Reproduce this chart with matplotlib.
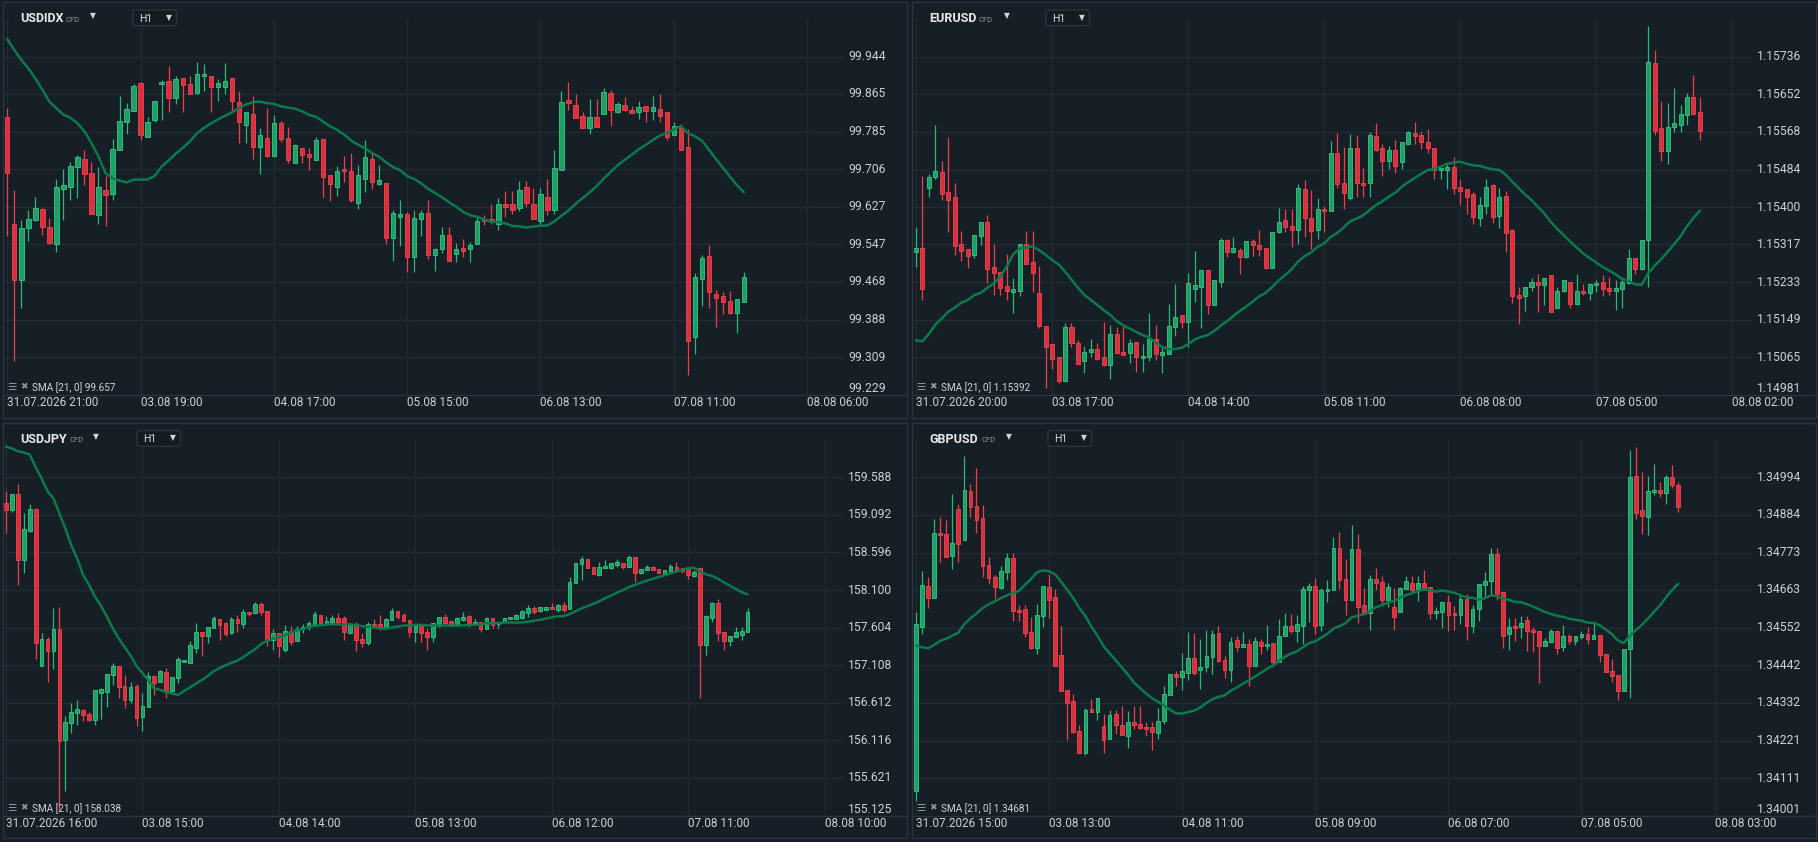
import numpy as np
import pandas as pd
import matplotlib
matplotlib.use('Agg')
import matplotlib.pyplot as plt
from matplotlib.patches import Rectangle, FancyBboxPatch
from matplotlib.lines import Line2D
from matplotlib.transforms import blended_transform_factory

plt.rcParams['font.family'] = ['Roboto', 'DejaVu Sans']

# ---- data (open, high, low, close), hourly candles ----
USDIDX_OHLC = [
    (99.816, 99.835, 99.565, 99.699), (99.590, 99.662, 99.300, 99.471), (99.471, 99.599, 99.413, 99.582),
    (99.581, 99.619, 99.555, 99.600), (99.598, 99.648, 99.596, 99.624), (99.622, 99.624, 99.568, 99.583),
    (99.584, 99.603, 99.549, 99.551), (99.547, 99.685, 99.532, 99.668), (99.665, 99.706, 99.598, 99.672),
    (99.669, 99.721, 99.641, 99.712), (99.710, 99.736, 99.646, 99.731), (99.727, 99.747, 99.672, 99.696),
    (99.698, 99.721, 99.611, 99.611), (99.610, 99.710, 99.591, 99.668), (99.662, 99.692, 99.587, 99.651),
    (99.653, 99.769, 99.641, 99.748), (99.746, 99.860, 99.746, 99.807), (99.805, 99.846, 99.781, 99.833),
    (99.830, 99.886, 99.830, 99.881), (99.888, 99.891, 99.767, 99.779), (99.774, 99.816, 99.774, 99.805),
    (99.809, 99.850, 99.806, 99.850), (99.886, 99.895, 99.810, 99.890), (99.892, 99.924, 99.828, 99.857),
    (99.857, 99.903, 99.844, 99.896), (99.898, 99.898, 99.826, 99.883), (99.886, 99.903, 99.864, 99.864),
    (99.868, 99.933, 99.864, 99.907), (99.902, 99.928, 99.872, 99.907), (99.902, 99.902, 99.826, 99.879),
    (99.879, 99.897, 99.851, 99.888), (99.879, 99.930, 99.865, 99.892), (99.898, 99.898, 99.826, 99.850),
    (99.848, 99.872, 99.762, 99.805), (99.800, 99.826, 99.762, 99.826), (99.822, 99.860, 99.727, 99.753),
    (99.754, 99.793, 99.697, 99.778), (99.772, 99.835, 99.731, 99.735), (99.735, 99.820, 99.731, 99.803),
    (99.803, 99.807, 99.764, 99.769), (99.772, 99.795, 99.719, 99.725), (99.719, 99.759, 99.719, 99.757),
    (99.750, 99.750, 99.719, 99.736), (99.738, 99.750, 99.705, 99.731), (99.726, 99.774, 99.726, 99.767),
    (99.769, 99.769, 99.646, 99.689), (99.693, 99.693, 99.638, 99.674), (99.669, 99.713, 99.650, 99.703),
    (99.706, 99.735, 99.680, 99.702), (99.702, 99.741, 99.636, 99.640), (99.634, 99.715, 99.622, 99.693),
    (99.685, 99.767, 99.658, 99.731), (99.727, 99.740, 99.664, 99.680), (99.674, 99.716, 99.672, 99.683),
    (99.677, 99.677, 99.548, 99.560), (99.560, 99.620, 99.513, 99.613), (99.605, 99.641, 99.543, 99.611),
    (99.611, 99.616, 99.488, 99.520), (99.520, 99.620, 99.488, 99.603), (99.600, 99.620, 99.566, 99.613),
    (99.613, 99.641, 99.517, 99.524), (99.524, 99.540, 99.490, 99.537), (99.538, 99.584, 99.530, 99.567),
    (99.567, 99.584, 99.513, 99.513), (99.526, 99.550, 99.509, 99.537), (99.540, 99.559, 99.520, 99.534),
    (99.537, 99.553, 99.511, 99.546), (99.549, 99.610, 99.549, 99.596), (99.601, 99.610, 99.589, 99.597),
    (99.601, 99.633, 99.591, 99.596), (99.590, 99.646, 99.577, 99.632), (99.632, 99.660, 99.606, 99.627),
    (99.632, 99.660, 99.612, 99.619), (99.625, 99.681, 99.617, 99.662), (99.668, 99.681, 99.627, 99.634),
    (99.633, 99.666, 99.600, 99.600), (99.596, 99.666, 99.588, 99.653), (99.647, 99.686, 99.610, 99.619),
    (99.619, 99.747, 99.612, 99.708), (99.705, 99.872, 99.705, 99.848), (99.852, 99.890, 99.831, 99.845),
    (99.841, 99.864, 99.815, 99.815), (99.818, 99.826, 99.794, 99.794), (99.794, 99.855, 99.781, 99.817),
    (99.817, 99.855, 99.796, 99.796), (99.822, 99.878, 99.822, 99.869), (99.867, 99.874, 99.798, 99.832),
    (99.828, 99.848, 99.824, 99.843), (99.841, 99.859, 99.829, 99.832), (99.831, 99.840, 99.824, 99.824),
    (99.826, 99.850, 99.812, 99.838), (99.839, 99.839, 99.806, 99.830), (99.830, 99.860, 99.810, 99.838),
    (99.834, 99.865, 99.806, 99.819), (99.826, 99.826, 99.767, 99.775), (99.779, 99.806, 99.777, 99.798),
    (99.793, 99.802, 99.746, 99.746), (99.753, 99.791, 99.272, 99.344), (99.351, 99.486, 99.316, 99.479),
    (99.475, 99.525, 99.416, 99.518), (99.522, 99.546, 99.412, 99.446), (99.443, 99.451, 99.372, 99.435),
    (99.439, 99.447, 99.401, 99.425), (99.427, 99.449, 99.401, 99.403), (99.403, 99.432, 99.361, 99.432),
    (99.425, 99.489, 99.425, 99.479),
]
# SMA values before 21 closes are on screen
USDIDX_SMA_HEAD = [99.981, 99.958, 99.937, 99.919, 99.898, 99.874, 99.849, 99.835, 99.821, 99.815,
                   99.803, 99.786, 99.761, 99.733, 99.698, 99.687, 99.682, 99.678, 99.684, 99.684]
USDIDX_PRICES = ['99.944', '99.865', '99.785', '99.706', '99.627', '99.547', '99.468', '99.388', '99.309', '99.229']
USDIDX_DATES = ['31.07.2026 21:00', '03.08 19:00', '04.08 17:00', '05.08 15:00', '06.08 13:00', '07.08 11:00', '08.08 06:00']

EURUSD_OHLC = [
    (1.15301, 1.15355, 1.15267, 1.15308), (1.15310, 1.15470, 1.15194, 1.15218), (1.15442, 1.15474, 1.15423, 1.15467),
    (1.15468, 1.15583, 1.15464, 1.15480), (1.15478, 1.15504, 1.15416, 1.15430), (1.15435, 1.15557, 1.15345, 1.15417),
    (1.15422, 1.15453, 1.15294, 1.15314), (1.15319, 1.15348, 1.15281, 1.15303), (1.15306, 1.15306, 1.15265, 1.15292),
    (1.15294, 1.15339, 1.15286, 1.15339), (1.15336, 1.15368, 1.15315, 1.15368), (1.15368, 1.15382, 1.15231, 1.15263),
    (1.15266, 1.15317, 1.15204, 1.15254), (1.15256, 1.15256, 1.15204, 1.15220), (1.15224, 1.15296, 1.15194, 1.15214),
    (1.15211, 1.15241, 1.15164, 1.15217), (1.15214, 1.15319, 1.15202, 1.15319), (1.15319, 1.15347, 1.15274, 1.15274),
    (1.15277, 1.15347, 1.15211, 1.15254), (1.15208, 1.15269, 1.15131, 1.15134), (1.15134, 1.15134, 1.14996, 1.15087),
    (1.15094, 1.15098, 1.15039, 1.15062), (1.15065, 1.15065, 1.15008, 1.15013), (1.15013, 1.15141, 1.15013, 1.15132),
    (1.15132, 1.15141, 1.15089, 1.15098), (1.15098, 1.15103, 1.15051, 1.15051), (1.15057, 1.15090, 1.15029, 1.15077),
    (1.15078, 1.15106, 1.15065, 1.15084), (1.15084, 1.15098, 1.15059, 1.15062), (1.15065, 1.15143, 1.15045, 1.15048),
    (1.15048, 1.15138, 1.15017, 1.15118), (1.15118, 1.15133, 1.15073, 1.15075), (1.15076, 1.15135, 1.15071, 1.15071),
    (1.15075, 1.15105, 1.15053, 1.15098), (1.15100, 1.15100, 1.15033, 1.15066), (1.15064, 1.15094, 1.15033, 1.15069),
    (1.15066, 1.15163, 1.15057, 1.15105), (1.15105, 1.15138, 1.15060, 1.15073), (1.15071, 1.15087, 1.15029, 1.15077),
    (1.15073, 1.15183, 1.15073, 1.15136), (1.15133, 1.15228, 1.15112, 1.15156), (1.15159, 1.15159, 1.15130, 1.15143),
    (1.15143, 1.15254, 1.15089, 1.15230), (1.15217, 1.15302, 1.15189, 1.15226), (1.15223, 1.15259, 1.15130, 1.15259),
    (1.15261, 1.15261, 1.15161, 1.15181), (1.15181, 1.15237, 1.15181, 1.15237), (1.15234, 1.15331, 1.15223, 1.15327),
    (1.15327, 1.15328, 1.15289, 1.15301), (1.15299, 1.15334, 1.15297, 1.15308), (1.15304, 1.15310, 1.15252, 1.15288),
    (1.15289, 1.15324, 1.15286, 1.15324), (1.15324, 1.15328, 1.15292, 1.15315), (1.15315, 1.15349, 1.15292, 1.15307),
    (1.15310, 1.15310, 1.15263, 1.15265), (1.15265, 1.15344, 1.15265, 1.15344), (1.15344, 1.15398, 1.15342, 1.15368),
    (1.15371, 1.15395, 1.15345, 1.15355), (1.15357, 1.15395, 1.15312, 1.15350), (1.15350, 1.15452, 1.15319, 1.15442),
    (1.15440, 1.15461, 1.15334, 1.15375), (1.15375, 1.15438, 1.15307, 1.15348), (1.15350, 1.15420, 1.15330, 1.15395),
    (1.15395, 1.15403, 1.15345, 1.15391), (1.15391, 1.15548, 1.15391, 1.15522), (1.15522, 1.15565, 1.15443, 1.15451),
    (1.15453, 1.15535, 1.15397, 1.15431), (1.15421, 1.15563, 1.15416, 1.15531), (1.15531, 1.15561, 1.15423, 1.15453),
    (1.15455, 1.15488, 1.15423, 1.15450), (1.15453, 1.15568, 1.15423, 1.15560), (1.15558, 1.15587, 1.15525, 1.15528),
    (1.15531, 1.15542, 1.15470, 1.15502), (1.15502, 1.15536, 1.15486, 1.15527), (1.15527, 1.15550, 1.15477, 1.15493),
    (1.15500, 1.15545, 1.15486, 1.15545), (1.15542, 1.15571, 1.15540, 1.15567), (1.15565, 1.15590, 1.15542, 1.15558),
    (1.15560, 1.15571, 1.15530, 1.15545), (1.15545, 1.15574, 1.15522, 1.15531), (1.15533, 1.15533, 1.15463, 1.15483),
    (1.15482, 1.15487, 1.15464, 1.15487), (1.15484, 1.15499, 1.15441, 1.15489), (1.15489, 1.15512, 1.15429, 1.15442),
    (1.15444, 1.15461, 1.15406, 1.15436), (1.15440, 1.15440, 1.15384, 1.15423), (1.15429, 1.15433, 1.15362, 1.15379),
    (1.15377, 1.15423, 1.15359, 1.15405), (1.15403, 1.15463, 1.15384, 1.15446), (1.15449, 1.15452, 1.15364, 1.15379),
    (1.15381, 1.15442, 1.15353, 1.15423), (1.15426, 1.15436, 1.15301, 1.15343), (1.15349, 1.15352, 1.15186, 1.15201),
    (1.15203, 1.15222, 1.15140, 1.15198), (1.15201, 1.15223, 1.15169, 1.15223), (1.15221, 1.15241, 1.15212, 1.15234),
    (1.15234, 1.15251, 1.15167, 1.15226), (1.15226, 1.15243, 1.15182, 1.15243), (1.15248, 1.15248, 1.15166, 1.15167),
    (1.15176, 1.15222, 1.15176, 1.15214), (1.15213, 1.15237, 1.15211, 1.15237), (1.15234, 1.15234, 1.15176, 1.15185),
    (1.15185, 1.15251, 1.15181, 1.15212), (1.15212, 1.15228, 1.15204, 1.15208), (1.15208, 1.15231, 1.15194, 1.15229),
    (1.15226, 1.15237, 1.15211, 1.15230), (1.15232, 1.15249, 1.15202, 1.15217), (1.15220, 1.15244, 1.15204, 1.15214),
    (1.15214, 1.15237, 1.15171, 1.15220), (1.15218, 1.15245, 1.15176, 1.15232), (1.15230, 1.15307, 1.15228, 1.15286),
    (1.15286, 1.15286, 1.15251, 1.15263), (1.15263, 1.15326, 1.15260, 1.15326), (1.15326, 1.15804, 1.15221, 1.15723),
    (1.15721, 1.15751, 1.15562, 1.15569), (1.15576, 1.15638, 1.15502, 1.15525), (1.15525, 1.15632, 1.15497, 1.15580),
    (1.15580, 1.15666, 1.15568, 1.15587), (1.15583, 1.15629, 1.15568, 1.15607), (1.15605, 1.15655, 1.15584, 1.15645),
    (1.15645, 1.15695, 1.15605, 1.15609), (1.15612, 1.15645, 1.15551, 1.15570),
]
EURUSD_SMA_HEAD = [1.15103, 1.15101, 1.15118, 1.15138, 1.15152, 1.15167, 1.15176, 1.15187, 1.15193, 1.15204,
                   1.15209, 1.15220, 1.15230, 1.15245, 1.15267, 1.15295, 1.15308, 1.15310, 1.15313, 1.15304]
EURUSD_PRICES = ['1.15736', '1.15652', '1.15568', '1.15484', '1.15400', '1.15317', '1.15233', '1.15149', '1.15065', '1.14981']
EURUSD_DATES = ['31.07.2026 20:00', '03.08 17:00', '04.08 14:00', '05.08 11:00', '06.08 08:00', '07.08 05:00', '08.08 02:00']

USDJPY_OHLC = [
    (159.250, 159.408, 158.846, 159.149), (159.149, 159.368, 159.127, 159.368), (159.368, 159.500, 158.161, 158.495),
    (158.490, 159.118, 158.319, 158.908), (158.881, 159.237, 158.864, 159.171), (159.171, 159.180, 157.187, 157.397),
    (157.094, 157.538, 157.094, 157.454), (157.454, 157.481, 156.884, 157.292), (157.292, 157.867, 157.055, 157.591),
    (157.591, 157.880, 155.198, 156.107), (156.120, 156.445, 155.448, 156.366), (156.344, 156.616, 156.212, 156.493),
    (156.475, 156.647, 156.317, 156.537), (156.524, 156.537, 156.370, 156.449), (156.467, 156.489, 156.370, 156.383),
    (156.383, 156.778, 156.317, 156.778), (156.739, 156.809, 156.396, 156.792), (156.761, 156.993, 156.563, 156.993),
    (156.976, 157.134, 156.849, 157.099), (157.099, 157.099, 156.673, 156.818), (156.835, 156.985, 156.541, 156.647),
    (156.647, 156.892, 156.612, 156.827), (156.840, 156.862, 156.304, 156.410), (156.427, 156.748, 156.238, 156.572),
    (156.559, 157.024, 156.559, 156.967), (156.967, 156.985, 156.717, 156.875), (156.888, 157.046, 156.888, 157.033),
    (157.024, 157.072, 156.673, 156.765), (156.765, 156.954, 156.765, 156.954), (156.945, 157.222, 156.871, 157.187),
    (157.152, 157.182, 157.152, 157.182), (157.134, 157.432, 157.134, 157.371), (157.340, 157.661, 157.266, 157.551),
    (157.551, 157.551, 157.231, 157.490), (157.490, 157.617, 157.397, 157.617), (157.595, 157.757, 157.595, 157.727),
    (157.722, 157.722, 157.437, 157.634), (157.661, 157.683, 157.490, 157.525), (157.529, 157.740, 157.520, 157.713),
    (157.722, 157.775, 157.551, 157.661), (157.656, 157.845, 157.604, 157.810), (157.810, 157.810, 157.762, 157.779),
    (157.792, 157.946, 157.792, 157.920), (157.920, 157.946, 157.766, 157.810), (157.828, 157.828, 157.362, 157.450),
    (157.441, 157.586, 157.305, 157.538), (157.538, 157.538, 157.213, 157.362), (157.310, 157.634, 157.283, 157.560),
    (157.560, 157.626, 157.375, 157.419), (157.428, 157.626, 157.428, 157.586), (157.591, 157.648, 157.529, 157.617),
    (157.621, 157.691, 157.569, 157.661), (157.639, 157.828, 157.630, 157.779), (157.775, 157.775, 157.648, 157.661),
    (157.652, 157.757, 157.639, 157.696), (157.674, 157.770, 157.674, 157.735), (157.735, 157.801, 157.661, 157.683),
    (157.735, 157.762, 157.446, 157.542), (157.538, 157.665, 157.525, 157.648), (157.648, 157.683, 157.301, 157.437),
    (157.459, 157.538, 157.353, 157.406), (157.406, 157.683, 157.371, 157.656), (157.652, 157.718, 157.608, 157.617),
    (157.648, 157.770, 157.569, 157.595), (157.595, 157.735, 157.586, 157.722), (157.705, 157.867, 157.705, 157.828),
    (157.828, 157.828, 157.718, 157.740), (157.766, 157.801, 157.687, 157.687), (157.705, 157.705, 157.485, 157.542),
    (157.542, 157.648, 157.411, 157.630), (157.630, 157.665, 157.419, 157.533), (157.551, 157.595, 157.305, 157.485),
    (157.476, 157.661, 157.411, 157.661), (157.626, 157.749, 157.608, 157.749), (157.749, 157.784, 157.661, 157.670),
    (157.696, 157.696, 157.643, 157.656), (157.656, 157.744, 157.643, 157.735), (157.709, 157.814, 157.687, 157.744),
    (157.753, 157.770, 157.608, 157.665), (157.652, 157.713, 157.634, 157.683), (157.678, 157.678, 157.551, 157.591),
    (157.591, 157.749, 157.591, 157.735), (157.731, 157.731, 157.595, 157.643), (157.652, 157.683, 157.604, 157.670),
    (157.678, 157.731, 157.678, 157.731), (157.713, 157.744, 157.713, 157.744), (157.718, 157.779, 157.713, 157.766),
    (157.735, 157.836, 157.722, 157.828), (157.801, 157.898, 157.749, 157.867), (157.867, 157.885, 157.788, 157.810),
    (157.828, 157.876, 157.814, 157.876), (157.841, 157.880, 157.832, 157.880), (157.880, 157.929, 157.845, 157.845),
    (157.836, 157.920, 157.810, 157.907), (157.907, 157.937, 157.814, 157.841), (157.845, 158.275, 157.845, 158.205),
    (158.188, 158.455, 158.188, 158.455), (158.438, 158.552, 158.231, 158.512), (158.512, 158.512, 158.385, 158.385),
    (158.407, 158.407, 158.306, 158.310), (158.297, 158.473, 158.289, 158.407), (158.385, 158.499, 158.385, 158.420),
    (158.394, 158.460, 158.372, 158.460), (158.429, 158.504, 158.407, 158.473), (158.460, 158.460, 158.372, 158.407),
    (158.398, 158.565, 158.398, 158.539), (158.539, 158.539, 158.209, 158.319), (158.319, 158.376, 158.306, 158.376),
    (158.359, 158.429, 158.359, 158.407), (158.407, 158.420, 158.359, 158.359), (158.381, 158.381, 158.319, 158.319),
    (158.310, 158.368, 158.297, 158.368), (158.346, 158.447, 158.337, 158.420), (158.407, 158.473, 158.359, 158.359),
    (158.385, 158.394, 158.319, 158.354), (158.394, 158.407, 158.245, 158.297), (158.289, 158.368, 158.267, 158.341),
    (158.385, 158.394, 156.673, 157.371), (157.371, 157.770, 157.239, 157.757), (157.727, 157.946, 157.674, 157.933),
    (157.933, 157.986, 157.432, 157.529), (157.547, 157.547, 157.305, 157.432), (157.432, 157.494, 157.367, 157.494),
    (157.476, 157.617, 157.476, 157.551), (157.511, 157.617, 157.446, 157.564), (157.542, 157.867, 157.542, 157.810),
]
USDJPY_SMA_HEAD = [159.992, 159.966, 159.930, 159.913, 159.887, 159.724, 159.570, 159.404, 159.307, 159.109,
                   158.912, 158.692, 158.517, 158.297, 158.166, 158.012, 157.893, 157.749, 157.595, 157.463]
USDJPY_PRICES = ['159.588', '159.092', '158.596', '158.100', '157.604', '157.108', '156.612', '156.116', '155.621', '155.125']
USDJPY_DATES = ['31.07.2026 16:00', '03.08 15:00', '04.08 14:00', '05.08 13:00', '06.08 12:00', '07.08 11:00', '08.08 10:00']

GBPUSD_OHLC = [
    (1.34074, 1.34597, 1.34043, 1.34563), (1.34554, 1.34719, 1.34534, 1.34678), (1.34676, 1.34701, 1.34610, 1.34639),
    (1.34639, 1.34871, 1.34639, 1.34830), (1.34830, 1.34877, 1.34744, 1.34823), (1.34827, 1.34869, 1.34759, 1.34759),
    (1.34762, 1.34945, 1.34725, 1.34801), (1.34900, 1.34916, 1.34744, 1.34797), (1.34809, 1.35057, 1.34809, 1.34956),
    (1.34953, 1.34973, 1.34878, 1.34906), (1.34910, 1.35022, 1.34829, 1.34867), (1.34874, 1.34912, 1.34700, 1.34733),
    (1.34736, 1.34761, 1.34680, 1.34697), (1.34701, 1.34707, 1.34636, 1.34671), (1.34668, 1.34734, 1.34665, 1.34719),
    (1.34715, 1.34772, 1.34692, 1.34757), (1.34757, 1.34772, 1.34571, 1.34601), (1.34605, 1.34618, 1.34571, 1.34598),
    (1.34608, 1.34618, 1.34525, 1.34538), (1.34541, 1.34583, 1.34489, 1.34492), (1.34492, 1.34621, 1.34475, 1.34591),
    (1.34587, 1.34675, 1.34553, 1.34675), (1.34672, 1.34711, 1.34580, 1.34633), (1.34641, 1.34665, 1.34440, 1.34440),
    (1.34473, 1.34556, 1.34368, 1.34368), (1.34370, 1.34370, 1.34223, 1.34331), (1.34338, 1.34358, 1.34242, 1.34246),
    (1.34250, 1.34266, 1.34185, 1.34185), (1.34185, 1.34318, 1.34178, 1.34310), (1.34313, 1.34344, 1.34306, 1.34306),
    (1.34306, 1.34347, 1.34281, 1.34347), (1.34264, 1.34298, 1.34185, 1.34223), (1.34227, 1.34310, 1.34227, 1.34297),
    (1.34300, 1.34312, 1.34240, 1.34267), (1.34268, 1.34323, 1.34238, 1.34238), (1.34236, 1.34309, 1.34199, 1.34277),
    (1.34275, 1.34323, 1.34255, 1.34267), (1.34271, 1.34324, 1.34255, 1.34258), (1.34262, 1.34277, 1.34236, 1.34256),
    (1.34260, 1.34277, 1.34194, 1.34246), (1.34243, 1.34316, 1.34227, 1.34278), (1.34278, 1.34382, 1.34270, 1.34358),
    (1.34356, 1.34417, 1.34356, 1.34417), (1.34417, 1.34426, 1.34380, 1.34407), (1.34407, 1.34479, 1.34370, 1.34424),
    (1.34419, 1.34541, 1.34400, 1.34464), (1.34464, 1.34537, 1.34413, 1.34419), (1.34428, 1.34520, 1.34372, 1.34438),
    (1.34437, 1.34547, 1.34421, 1.34470), (1.34466, 1.34547, 1.34416, 1.34534), (1.34537, 1.34556, 1.34451, 1.34454),
    (1.34458, 1.34468, 1.34405, 1.34428), (1.34428, 1.34524, 1.34393, 1.34511), (1.34517, 1.34529, 1.34484, 1.34495),
    (1.34495, 1.34540, 1.34495, 1.34506), (1.34506, 1.34520, 1.34381, 1.34440), (1.34440, 1.34524, 1.34440, 1.34514),
    (1.34511, 1.34520, 1.34475, 1.34499), (1.34499, 1.34559, 1.34488, 1.34506), (1.34508, 1.34508, 1.34437, 1.34451),
    (1.34451, 1.34578, 1.34451, 1.34529), (1.34529, 1.34595, 1.34529, 1.34556), (1.34556, 1.34594, 1.34536, 1.34542),
    (1.34542, 1.34590, 1.34511, 1.34562), (1.34557, 1.34674, 1.34505, 1.34666), (1.34662, 1.34685, 1.34569, 1.34675),
    (1.34675, 1.34699, 1.34533, 1.34557), (1.34560, 1.34670, 1.34544, 1.34663), (1.34659, 1.34693, 1.34627, 1.34666),
    (1.34663, 1.34819, 1.34663, 1.34786), (1.34786, 1.34834, 1.34665, 1.34692), (1.34695, 1.34755, 1.34591, 1.34633),
    (1.34633, 1.34854, 1.34633, 1.34783), (1.34783, 1.34828, 1.34566, 1.34613), (1.34619, 1.34670, 1.34592, 1.34592),
    (1.34595, 1.34707, 1.34547, 1.34695), (1.34695, 1.34729, 1.34664, 1.34683), (1.34687, 1.34705, 1.34619, 1.34634),
    (1.34633, 1.34683, 1.34614, 1.34672), (1.34613, 1.34670, 1.34547, 1.34584), (1.34599, 1.34672, 1.34599, 1.34669),
    (1.34666, 1.34705, 1.34666, 1.34690), (1.34684, 1.34705, 1.34658, 1.34662), (1.34666, 1.34705, 1.34632, 1.34683),
    (1.34683, 1.34723, 1.34664, 1.34669), (1.34672, 1.34672, 1.34579, 1.34596), (1.34595, 1.34614, 1.34579, 1.34602),
    (1.34599, 1.34628, 1.34551, 1.34628), (1.34628, 1.34647, 1.34542, 1.34590), (1.34596, 1.34617, 1.34545, 1.34590),
    (1.34590, 1.34652, 1.34564, 1.34637), (1.34637, 1.34652, 1.34516, 1.34557), (1.34557, 1.34619, 1.34536, 1.34608),
    (1.34608, 1.34681, 1.34571, 1.34681), (1.34678, 1.34715, 1.34643, 1.34690), (1.34690, 1.34787, 1.34648, 1.34769),
    (1.34769, 1.34787, 1.34633, 1.34652), (1.34657, 1.34657, 1.34492, 1.34528), (1.34534, 1.34581, 1.34488, 1.34555),
    (1.34558, 1.34581, 1.34513, 1.34551), (1.34554, 1.34587, 1.34522, 1.34567), (1.34575, 1.34587, 1.34484, 1.34543),
    (1.34546, 1.34555, 1.34481, 1.34539), (1.34543, 1.34543, 1.34390, 1.34499), (1.34499, 1.34523, 1.34499, 1.34514),
    (1.34511, 1.34549, 1.34511, 1.34543), (1.34543, 1.34546, 1.34475, 1.34492), (1.34496, 1.34561, 1.34485, 1.34529),
    (1.34529, 1.34534, 1.34505, 1.34514), (1.34514, 1.34529, 1.34502, 1.34529), (1.34526, 1.34543, 1.34520, 1.34534),
    (1.34534, 1.34555, 1.34505, 1.34520), (1.34520, 1.34572, 1.34520, 1.34531), (1.34531, 1.34531, 1.34451, 1.34473),
    (1.34476, 1.34476, 1.34423, 1.34423), (1.34426, 1.34461, 1.34393, 1.34410), (1.34413, 1.34413, 1.34340, 1.34367),
    (1.34367, 1.34490, 1.34367, 1.34490), (1.34490, 1.35074, 1.34346, 1.34994), (1.34997, 1.35083, 1.34871, 1.34889),
    (1.34898, 1.35010, 1.34826, 1.34880), (1.34877, 1.34998, 1.34823, 1.34953), (1.34950, 1.35033, 1.34942, 1.34956),
    (1.34956, 1.34981, 1.34936, 1.34947), (1.34947, 1.35000, 1.34915, 1.34994), (1.34994, 1.35030, 1.34962, 1.34971),
    (1.34971, 1.34981, 1.34892, 1.34908),
]
GBPUSD_SMA_HEAD = [1.34500, 1.34495, 1.34492, 1.34502, 1.34514, 1.34520, 1.34529, 1.34538, 1.34563, 1.34580,
                   1.34594, 1.34610, 1.34621, 1.34629, 1.34639, 1.34647, 1.34654, 1.34660, 1.34678, 1.34695]
GBPUSD_PRICES = ['1.34994', '1.34884', '1.34773', '1.34663', '1.34552', '1.34442', '1.34332', '1.34221', '1.34111', '1.34001']
GBPUSD_DATES = ['31.07.2026 15:00', '03.08 13:00', '04.08 11:00', '05.08 09:00', '06.08 07:00', '07.08 05:00', '08.08 03:00']

SMA_LABELS = ['SMA [21, 0] 99.657', 'SMA [21, 0] 1.15392', 'SMA [21, 0] 158.038', 'SMA [21, 0] 1.34681']

# ---- look ----
W, H = 1818, 842
BG = '#161e26'
BORDER = '#2a353f'
GRID = '#212a32'
TXT = '#cdd1d5'
UP_FILL, UP_EDGE, UP_WICK = '#1f9e66', '#31c985', '#27b978'
DN_FILL, DN_EDGE, DN_WICK = '#d8303d', '#f04451', '#ee3f4b'
SMA_COL = '#0a7a4b'

fig = plt.figure(figsize=(W / 100, H / 100), dpi=100, facecolor=BG)


def fx(x):
    return x / W


def fy(y):
    return 1 - y / H


# panel origin, first candle x, candle spacing (px), candles per date gridline, header x positions
panels = [
    dict(name='USDIDX', ohlc=USDIDX_OHLC, head=USDIDX_SMA_HEAD, prices=USDIDX_PRICES, dates=USDIDX_DATES,
         ox=0, oy=0, first=7.3, sp=7.015, step=19, cfd=66, tri=93, box=133),
    dict(name='EURUSD', ohlc=EURUSD_OHLC, head=EURUSD_SMA_HEAD, prices=EURUSD_PRICES, dates=EURUSD_DATES,
         ox=909, oy=0, first=7.0, sp=6.479, step=21, cfd=70, tri=98, box=137),
    dict(name='USDJPY', ohlc=USDJPY_OHLC, head=USDJPY_SMA_HEAD, prices=USDJPY_PRICES, dates=USDJPY_DATES,
         ox=0, oy=420.6, first=6.0, sp=5.933, step=23, cfd=69, tri=96, box=137),
    dict(name='GBPUSD', ohlc=GBPUSD_OHLC, head=GBPUSD_SMA_HEAD, prices=GBPUSD_PRICES, dates=GBPUSD_DATES,
         ox=909, oy=420.6, first=7.0, sp=6.05, step=22, cfd=72, tri=100, box=139),
]

for k, p in enumerate(panels):
    ox, oy = p['ox'], p['oy']

    # panel frame and date-axis separator
    fig.patches.append(Rectangle((fx(ox + 2.7), fy(oy + 417.7)), 904 / W, 415.7 / H,
                                 transform=fig.transFigure, fill=False, edgecolor=BORDER, lw=1))
    fig.lines.append(Line2D([fx(ox + 2.7), fx(ox + 906.7)], [fy(oy + 395), fy(oy + 395)],
                            transform=fig.transFigure, color=BORDER, lw=1))

    ax = fig.add_axes([fx(ox + 3), fy(oy + 395), 840 / W, 376 / H])
    ax.set_facecolor('none')
    for s in ax.spines.values():
        s.set_visible(False)
    ax.set_xticks([])
    ax.set_yticks([])

    df = pd.DataFrame(p['ohlc'], columns=['open', 'high', 'low', 'close'])
    idx = np.arange(len(df))

    levels = [float(v) for v in p['prices']]
    step_p = (levels[0] - levels[-1]) / 9
    ax.set_ylim(levels[-1], levels[0] + step_p)
    ax.set_xlim((3 - p['first']) / p['sp'], (843 - p['first']) / p['sp'])

    for v in levels[:-1]:
        ax.axhline(v, color=GRID, lw=1, zorder=0)
    ticks = [i * p['step'] for i in range(len(p['dates']))]
    for t in ticks:
        ax.axvline(t, color=GRID, lw=1, zorder=0)

    up = df['close'] >= df['open']
    min_h = (levels[0] + step_p - levels[-1]) / 376 * 1.5
    body_lo = np.minimum(df['open'], df['close'])
    body_h = np.maximum((df['close'] - df['open']).abs(), min_h)

    ax.vlines(idx, df['low'], df['high'], colors=np.where(up, UP_WICK, DN_WICK), lw=0.9, zorder=2)
    ax.bar(idx, body_h, 0.62, bottom=body_lo, color=np.where(up, UP_FILL, DN_FILL),
           edgecolor=np.where(up, UP_EDGE, DN_EDGE), linewidth=0.6, zorder=3)

    # SMA(21) of closes; the first 20 values come from history before the window
    sma = df['close'].rolling(21).mean().to_numpy()
    sma[:20] = p['head']
    ax.plot(idx, sma, color=SMA_COL, lw=1.8, zorder=4, solid_capstyle='round')

    # price labels on the right
    ytr = blended_transform_factory(ax.transAxes, ax.transData)
    for i, lab in enumerate(p['prices']):
        ax.text(1.006, levels[i], lab, transform=ytr, color=TXT, fontsize=8.7,
                va='bottom' if i == 9 else 'center', ha='left')

    # date labels
    xtr = blended_transform_factory(ax.transData, ax.transAxes)
    for t, lab in zip(ticks, p['dates']):
        ax.text(t, -0.0205, lab, transform=xtr, color=TXT, fontsize=8.5, va='center', ha='left')

    # header
    fig.text(fx(ox + 20), fy(oy + 19), p['name'], color='#e6e8ea', fontsize=9, fontweight='bold',
             va='center', ha='left')
    fig.text(fx(ox + p['cfd']), fy(oy + 19.5), 'CFD', color='#8e969d', fontsize=5.5, va='center', ha='left')
    fig.text(fx(ox + p['tri']), fy(oy + 16), '\u25bc', color='#d3d6d9', fontsize=5.5, va='center', ha='center')
    fig.patches.append(FancyBboxPatch((fx(ox + p['box']), fy(oy + 25.7)), 43.5 / W, 15.7 / H,
                                      boxstyle='round,pad=0,rounding_size=0.002', transform=fig.transFigure,
                                      facecolor='#141b21', edgecolor=BORDER, lw=1))
    fig.text(fx(ox + p['box'] + 6), fy(oy + 18.5), 'H1', color='#dadde0', fontsize=7.5, va='center', ha='left')
    fig.text(fx(ox + p['box'] + 36), fy(oy + 17.5), '\u25bc', color='#d3d6d9', fontsize=5.5,
             va='center', ha='center')

    # indicator legend
    fig.text(fx(ox + 7), fy(oy + 387), '\u2630', color='#8d959c', fontsize=7.5, va='center', ha='left')
    fig.text(fx(ox + 20), fy(oy + 387), '\u2716', color='#8d959c', fontsize=6.5, va='center', ha='left')
    fig.text(fx(ox + 32), fy(oy + 388), SMA_LABELS[k], color='#d0d4d8', fontsize=7.2, va='center', ha='left')

fig.savefig('out.png', dpi=100, facecolor=BG)
